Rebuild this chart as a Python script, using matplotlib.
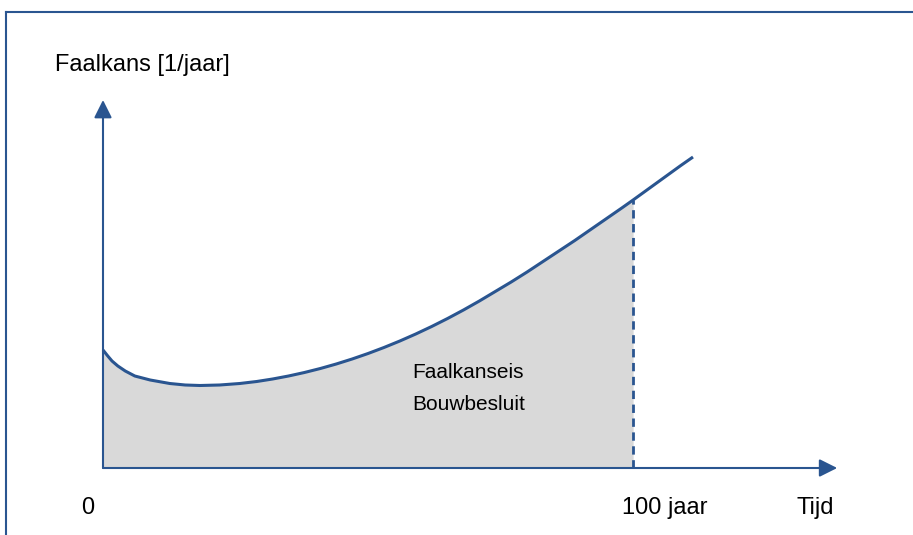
import matplotlib
matplotlib.use("Agg")
import matplotlib.pyplot as plt

# --------------------------------------------
# Data (years vs. relative failure probability)
# --------------------------------------------
jaren = [0, 0.9, 1.7, 2.8, 4.2, 6.0, 8.9, 12.6, 15.5, 18.3, 22.0, 25.8, 29.0, 32.0,
         35.0, 38.0, 41.0, 44.0, 47.0, 50.0, 53.0, 56.0, 59.0, 62.0, 65.0, 68.0,
         71.0, 74.0, 77.0, 80.0, 83.0, 86.0, 89.0, 92.0, 95.0, 98.0, 100.0,
         103.0, 106.0, 109.0, 111.3]
faalkans = [118, 112, 107, 102, 97, 92, 88, 84.5, 83, 82.5, 83, 84.5, 86.5, 89,
            92, 95.5, 99.5, 104, 109, 114.5, 120.5, 127, 134, 141.5, 149.5, 158,
            167, 176.5, 186, 196, 206.5, 217, 227.5, 238.5, 249.5, 260.5, 268,
            279.5, 291, 302.5, 311]
grens_jaar = 100
grens_kans = 268
x_pijl = 138.5
y_pijl = 368

blauw = "#2a5590"
grijs = "#d9d9d9"

plt.rcParams['font.family'] = ['Liberation Sans', 'DejaVu Sans']

fig = plt.figure(figsize=(9.13, 5.35), dpi=100)
ax = fig.add_axes([0, 0, 1, 1])
ax.set_xlim(-19.43, 152.8)
ax.set_ylim(-67, 468)
ax.axis("off")

# frame around the figure (left and top edge visible)
ax.plot([0.0066, 0.0066], [0, 0.9776], color=blauw, lw=1.5, transform=ax.transAxes, clip_on=False)
ax.plot([0.0066, 1.0], [0.9776, 0.9776], color=blauw, lw=1.5, transform=ax.transAxes, clip_on=False)

# shaded area up to 100 year
xs = [x for x in jaren if x <= grens_jaar]
ys = faalkans[:len(xs)]
ax.fill_between(xs, 0, ys, color=grijs, lw=0)

# axes as arrows
pijl = dict(arrowstyle="-|>,head_length=0.9,head_width=0.45", color=blauw, lw=1.5,
            mutation_scale=12, shrinkA=0, shrinkB=0)
ax.annotate("", xy=(0, y_pijl), xytext=(0, 0), arrowprops=pijl)
ax.annotate("", xy=(x_pijl, 0), xytext=(0, 0), arrowprops=pijl)

# curve and 100-year limit
ax.plot(jaren, faalkans, color=blauw, lw=2.2, solid_capstyle="butt", solid_joinstyle="round")
ax.plot([grens_jaar, grens_jaar], [0, grens_kans], color=blauw, lw=2.0, dashes=(3, 2))

# texts
ax.text(-9.0, 403, "Faalkans [1/jaar]", fontsize=17, ha="left", va="center")
ax.text(-2.8, -40, "0", fontsize=17, ha="center", va="center")
ax.text(106, -40, "100 jaar", fontsize=17, ha="center", va="center")
ax.text(134.4, -40, "Tijd", fontsize=17, ha="center", va="center")
ax.text(68.9, 95, "Faalkanseis", fontsize=15, ha="center", va="center")
ax.text(68.9, 63, "Bouwbesluit", fontsize=15, ha="center", va="center")

fig.savefig("out.png", dpi=100)
